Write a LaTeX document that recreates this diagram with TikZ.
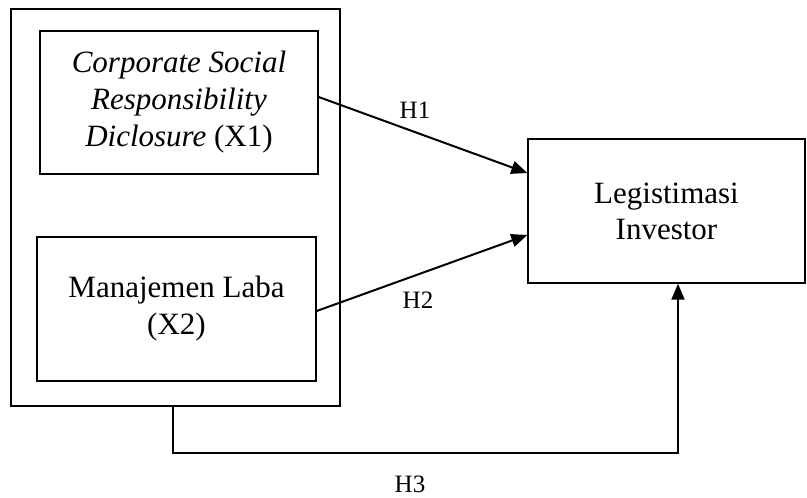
\documentclass[tikz,border=0pt]{standalone}
\usepackage{fontspec}
\setmainfont{Liberation Serif}
\usetikzlibrary{arrows.meta}
\begin{document}
\begin{tikzpicture}[x=1pt,y=-1pt,
  box/.style={draw,line width=1.4pt,align=center,inner sep=0pt,font=\fontsize{31}{37}\selectfont},
  conn/.style={line width=2pt,-{Triangle[length=16pt,width=13pt]}},
  hlabel/.style={font=\fontsize{25}{30}\selectfont,inner sep=0pt}]
\useasboundingbox (0,0) rectangle (807,498);
\node[box,minimum width=329pt,minimum height=397pt] (outer) at (175.5,207.5) {};
\node[box,minimum width=278pt,minimum height=143pt] (x1) at (179,102.5)
  {\textit{Corporate Social}\\\textit{Responsibility}\\\textit{Diclosure} (X1)};
\node[box,minimum width=279pt,minimum height=144pt] (x2) at (176.5,309)
  {Manajemen Laba\\(X2)};
\node[box,minimum width=277pt,minimum height=144pt,font=\fontsize{31}{36}\selectfont] (y) at (666.5,211)
  {Legistimasi\\Investor};
\draw[conn] ([yshift=5.5pt]x1.east) -- ([yshift=38pt]y.west);
\draw[conn] ([yshift=-2pt]x2.east) -- ([yshift=-24pt]y.west);
\draw[conn] ([xshift=-2.5pt]outer.south) -- ++(0,46) -| ([xshift=11.5pt]y.south);
\node[hlabel] (h1) at (415,110) {H1};
\node[hlabel] (h2) at (418,300) {H2};
\node[hlabel] (h3) at (410,484) {H3};
\end{tikzpicture}
\end{document}
